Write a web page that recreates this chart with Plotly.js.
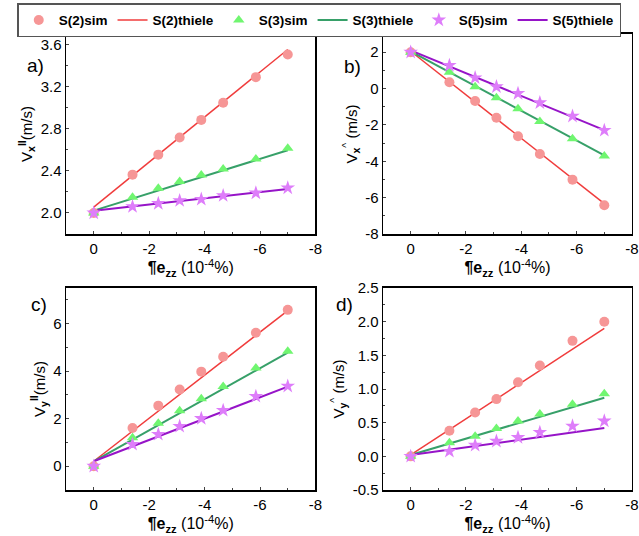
<!DOCTYPE html>
<html>
<head>
<meta charset="utf-8">
<script src="https://cdn.plot.ly/plotly-3.0.1.min.js"></script>
<style>html,body{margin:0;padding:0;background:#fff;}#chart{width:639px;height:536px;}</style>
</head>
<body>
<div id="chart"></div>
<script>
// ---- data ----
var strain = [0, -1.4, -2.33, -3.1, -3.88, -4.67, -5.85, -7.0];
var lineX = [0, -7.0];

// panel a: Vx parallel
var a_s2sim = [2.0, 2.364, 2.554, 2.716, 2.884, 3.046, 3.29, 3.505];
var a_s3sim = [2.0, 2.149, 2.234, 2.298, 2.361, 2.418, 2.513, 2.615];
var a_s5sim = [2.0, 2.06, 2.09, 2.117, 2.13, 2.165, 2.19, 2.238];
var a_s2th = [2.055, 3.553];
var a_s3th = [2.022, 2.596];
var a_s5th = [2.02, 2.228];

// panel b: Vx perpendicular
var b_s2sim = [2.0, 0.35, -0.69, -1.61, -2.62, -3.60, -5.01, -6.42];
var b_s3sim = [2.0, 0.90, 0.10, -0.51, -1.11, -1.81, -2.76, -3.71];
var b_s5sim = [2.0, 1.27, 0.59, 0.10, -0.27, -0.78, -1.52, -2.30];
var b_s2th = [2.05, -6.33];
var b_s3th = [2.05, -3.68];
var b_s5th = [2.1, -2.29];

// panel c: Vy parallel
var c_s2sim = [0, 1.61, 2.55, 3.23, 3.98, 4.61, 5.62, 6.58];
var c_s3sim = [0, 1.20, 1.81, 2.33, 2.84, 3.35, 4.13, 4.84];
var c_s5sim = [0, 0.92, 1.34, 1.68, 2.01, 2.35, 2.94, 3.37];
var c_s2th = [0.21, 6.55];
var c_s3th = [0.21, 4.78];
var c_s5th = [0.21, 3.35];

// panel d: Vy perpendicular
var d_s2sim = [0, 0.38, 0.65, 0.85, 1.10, 1.35, 1.715, 2.0];
var d_s3sim = [0, 0.20, 0.30, 0.415, 0.525, 0.63, 0.775, 0.93];
var d_s5sim = [0, 0.075, 0.165, 0.225, 0.28, 0.355, 0.45, 0.525];
var d_s2th = [0.02, 1.9];
var d_s3th = [0.02, 0.87];
var d_s5th = [0.02, 0.42];

var seriesNames = ['S(2)sim', 'S(2)thiele', 'S(3)sim', 'S(3)thiele', 'S(5)sim', 'S(5)thiele'];

// tick labels
var xTickVals = [0, -2, -4, -6, -8];
var xTickText = ['0', '-2', '-4', '-6', '-8'];
var aTickVals = [2.0, 2.4, 2.8, 3.2, 3.6];
var aTickText = ['2.0', '2.4', '2.8', '3.2', '3.6'];
var bTickVals = [-8, -6, -4, -2, 0, 2];
var bTickText = ['-8', '-6', '-4', '-2', '0', '2'];
var cTickVals = [0, 2, 4, 6];
var cTickText = ['0', '2', '4', '6'];
var dTickVals = [-0.5, 0, 0.5, 1.0, 1.5, 2.0, 2.5];
var dTickText = ['-0.5', '0.0', '0.5', '1.0', '1.5', '2.0', '2.5'];

// ---- styles ----
var simColors = ['rgb(246,150,150)', 'rgb(112,246,112)', 'rgb(222,125,250)'];
var lineColors = ['rgb(240,60,60)', 'rgb(55,160,105)', 'rgb(150,20,200)'];
var symbols = ['circle', 'triangle-up', 'star'];
var msizes = [10, 10, 11];
var lwidths = [1.5, 2, 2];

var panels = [
  {x: 'x', y: 'y', sims: [a_s2sim, a_s3sim, a_s5sim], ths: [a_s2th, a_s3th, a_s5th]},
  {x: 'x2', y: 'y2', sims: [b_s2sim, b_s3sim, b_s5sim], ths: [b_s2th, b_s3th, b_s5th]},
  {x: 'x3', y: 'y3', sims: [c_s2sim, c_s3sim, c_s5sim], ths: [c_s2th, c_s3th, c_s5th]},
  {x: 'x4', y: 'y4', sims: [d_s2sim, d_s3sim, d_s5sim], ths: [d_s2th, d_s3th, d_s5th]}
];

var traces = [];
panels.forEach(function (p, pi) {
  for (var k = 0; k < 3; k++) {
    traces.push({
      x: lineX, y: p.ths[k], xaxis: p.x, yaxis: p.y, type: 'scatter', mode: 'lines',
      line: {color: lineColors[k], width: lwidths[k]},
      name: seriesNames[2 * k + 1], legendgroup: 'g' + (2 * k + 1), showlegend: false, legendrank: 2 * k + 2
    });
  }
  for (var k2 = 0; k2 < 3; k2++) {
    traces.push({
      x: strain, y: p.sims[k2], xaxis: p.x, yaxis: p.y, type: 'scatter', mode: 'markers',
      marker: {color: simColors[k2], symbol: symbols[k2], size: msizes[k2], line: {width: 0}},
      name: seriesNames[2 * k2], legendgroup: 'g' + (2 * k2), showlegend: false, legendrank: 2 * k2 + 1
    });
  }
});
// legend entries from panel a
traces.forEach(function (t, i) { if (i < 6) t.showlegend = true; });

var font = {family: 'Liberation Sans, Arial, sans-serif', size: 14, color: '#000'};
var xTitle = '<b>¶e<sub>zz</sub></b> (10<sup>-4</sup>%)';

function xaxis(dom, anchor) {
  return {
    domain: dom, anchor: anchor, range: [1, -8], tickmode: 'array', tickvals: xTickVals, ticktext: xTickText,
    showline: true, linecolor: '#000', linewidth: 1.5, mirror: true, ticks: 'inside', ticklen: 3, tickwidth: 1,
    minor: {dtick: 1, tick0: 0, ticks: 'inside', ticklen: 2, tickwidth: 1},
    showgrid: false, zeroline: false, tickfont: {family: font.family, size: 15},
    title: {text: xTitle, font: {family: font.family, size: 16}, standoff: 0}
  };
}
function yaxis(dom, anchor, range, tv, tt, mdt, title) {
  return {
    domain: dom, anchor: anchor, range: range, tickmode: 'array', tickvals: tv, ticktext: tt,
    showline: true, linecolor: '#000', linewidth: 1.5, mirror: true, ticks: 'inside', ticklen: 3, tickwidth: 1,
    minor: {dtick: mdt, tick0: 0, ticks: 'inside', ticklen: 2, tickwidth: 1},
    showgrid: false, zeroline: false, tickfont: {family: font.family, size: 15},
    title: {text: title, font: {family: font.family, size: 15}, standoff: 4}
  };
}

var xL = [0.1033, 0.4937];
var xR = [0.5994, 0.989];
var yT = [0.5634, 0.9366];
var yB = [0.0858, 0.4627];

var layout = {
  width: 639, height: 536, margin: {l: 0, r: 0, t: 0, b: 0},
  paper_bgcolor: '#fff', plot_bgcolor: '#fff', font: font,
  showlegend: true,
  legend: {
    orientation: 'h', x: 0.027, y: 0.994, xanchor: 'left', yanchor: 'top',
    bordercolor: '#555', borderwidth: 1.5, font: {family: font.family, size: 13.5, weight: 'bold'},
    traceorder: 'normal', tracegroupgap: 0
  },
  xaxis: xaxis(xL, 'y'),
  yaxis: yaxis(yT, 'x', [1.8, 3.7], aTickVals, aTickText, 0.2, 'V<sub><b>x</b></sub><sup><b>II</b></sup>(m/s)'),
  xaxis2: xaxis(xR, 'y2'),
  yaxis2: yaxis(yT, 'x2', [-8, 3], bTickVals, bTickText, 1, 'V<sub><b>x</b></sub><sup>^</sup> (m/s)'),
  xaxis3: xaxis(xL, 'y3'),
  yaxis3: yaxis(yB, 'x3', [-1, 7.5], cTickVals, cTickText, 1, 'V<sub><b>y</b></sub><sup><b>II</b></sup>(m/s)'),
  xaxis4: xaxis(xR, 'y4'),
  yaxis4: yaxis(yB, 'x4', [-0.5, 2.5], dTickVals, dTickText, 0.25, 'V<sub><b>y</b></sub><sup>^</sup> (m/s)'),
  annotations: [
    {text: 'a)', x: 25 / 639, y: 1 - 53 / 536, xref: 'paper', yref: 'paper', showarrow: false, font: {family: font.family, size: 19}},
    {text: 'b)', x: 352 / 639, y: 1 - 54 / 536, xref: 'paper', yref: 'paper', showarrow: false, font: {family: font.family, size: 19}},
    {text: 'c)', x: 29 / 639, y: 1 - 304 / 536, xref: 'paper', yref: 'paper', showarrow: false, font: {family: font.family, size: 19}},
    {text: 'd)', x: 344 / 639, y: 1 - 304 / 536, xref: 'paper', yref: 'paper', showarrow: false, font: {family: font.family, size: 19}}
  ]
};

Plotly.newPlot('chart', traces, layout, {displayModeBar: false, staticPlot: true});
</script>
</body>
</html>
